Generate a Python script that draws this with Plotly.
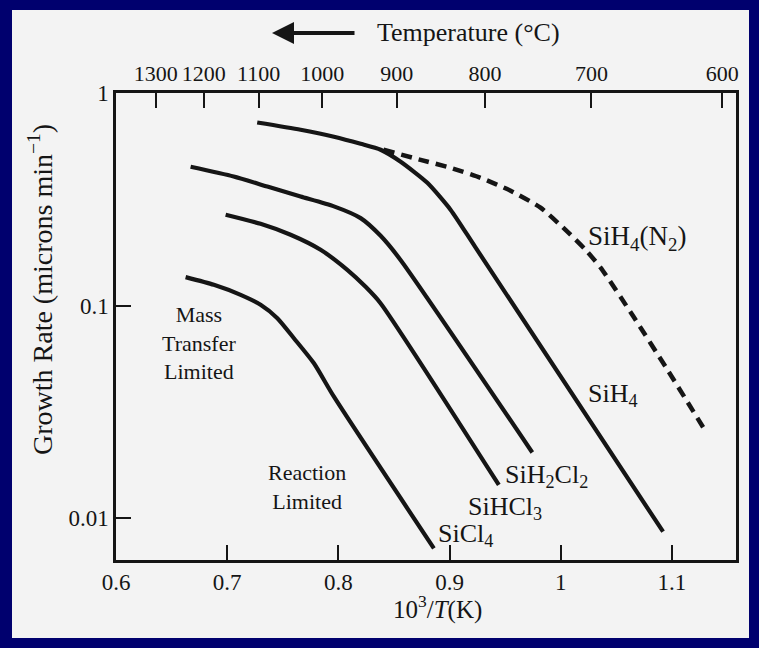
import plotly.graph_objects as go

# ---------------- data ----------------
sih4_x = [0.727, 0.766, 0.796, 0.820, 0.838, 0.856, 0.880, 0.901, 0.923, 1.092]
sih4_y = [0.727, 0.672, 0.623, 0.577, 0.541, 0.475, 0.378, 0.282, 0.189, 0.00865]

sih4n2_x = [0.8406, 0.8739, 0.9009, 0.9279, 0.9549, 0.9818, 1.0043, 1.0223, 1.0358, 1.0655, 1.0960, 1.1284]
sih4n2_y = [0.541, 0.485, 0.445, 0.399, 0.347, 0.289, 0.227, 0.183, 0.151, 0.0886, 0.0499, 0.0266]

sih2cl2_x = [0.6671, 0.7058, 0.7361, 0.7660, 0.7960, 0.8200, 0.8380, 0.8559, 0.9744]
sih2cl2_y = [0.450, 0.405, 0.363, 0.326, 0.293, 0.258, 0.213, 0.164, 0.0204]

sihcl3_x = [0.6986, 0.7300, 0.7570, 0.7840, 0.8080, 0.8245, 0.8379, 0.9443]
sihcl3_y = [0.2676, 0.2426, 0.2154, 0.1831, 0.1474, 0.1226, 0.1027, 0.01435]

sicl4_x = [0.6626, 0.6880, 0.7121, 0.7300, 0.7451, 0.7600, 0.7780, 0.7960, 0.8859]
sicl4_y = [0.1362, 0.1253, 0.1124, 0.1009, 0.0873, 0.0703, 0.0536, 0.0373, 0.00722]

x_ticks = [0.6, 0.7, 0.8, 0.9, 1.0, 1.1]
x_ticktext = ["0.6", "0.7", "0.8", "0.9", "1", "1.1"]
y_ticks = [0.01, 0.1, 1]
y_ticktext = ["0.01", "0.1", "1"]
temps_c = [1300, 1200, 1100, 1000, 900, 800, 700, 600]

# ---------------- layout helpers ----------------
W, H = 759, 648
L, R, T, B = 116, 736, 93, 560
FONT = "Liberation Serif, Times New Roman, serif"
INK = "#151515"
NAVY = "#00006e"


def P(px, py):
    return (px - L) / (R - L), (B - py) / (B - T)


fig = go.Figure()
line = dict(color=INK, width=4.2)
for xs, ys in [(sih4_x, sih4_y), (sih2cl2_x, sih2cl2_y), (sihcl3_x, sihcl3_y), (sicl4_x, sicl4_y)]:
    fig.add_trace(go.Scatter(x=xs, y=ys, mode="lines", line=dict(line, shape="spline", smoothing=0.6),
                             showlegend=False, hoverinfo="skip"))
fig.add_trace(go.Scatter(x=sih4n2_x, y=sih4n2_y, mode="lines",
                         line=dict(color=INK, width=4.5, dash="11px,7px", shape="spline", smoothing=0.6),
                         showlegend=False, hoverinfo="skip"))
# invisible trace to carry the temperature axis
fig.add_trace(go.Scatter(x=[1000.0 / (t + 273.15) for t in temps_c], y=[0.5] * len(temps_c),
                         xaxis="x2", mode="markers", marker=dict(opacity=0), showlegend=False,
                         hoverinfo="skip"))

axis_common = dict(showgrid=False, zeroline=False, showline=True, linecolor=INK, linewidth=2.5,
                   ticks="inside", ticklen=15, tickwidth=1.5, tickcolor=INK, tickangle=0,
                   tickfont=dict(family=FONT, size=23, color=INK))
xr = [0.6, 1.1576]
fig.update_layout(
    width=W, height=H,
    margin=dict(l=L, r=W - R, t=T, b=H - B),
    paper_bgcolor=NAVY,
    plot_bgcolor="rgba(0,0,0,0)",
    font=dict(family=FONT, size=22, color=INK),
    xaxis=dict(axis_common, range=xr, tickvals=x_ticks, ticktext=x_ticktext),
    xaxis2=dict(axis_common, range=xr, overlaying="x", side="top",
                tickvals=[1000.0 / (t + 273.15) for t in temps_c],
                ticktext=[str(t) for t in temps_c],
                tickfont=dict(family=FONT, size=22, color=INK)),
    yaxis=dict(axis_common, type="log", range=[-2.196, 0], tickvals=y_ticks, ticktext=y_ticktext,
               mirror=True),
)

# light page behind the chart
x0, y0 = P(12, 638)
x1, y1 = P(749, 10)
fig.add_shape(type="rect", xref="paper", yref="paper", x0=x0, y0=y0, x1=x1, y1=y1,
              fillcolor="#f3f3f3", line=dict(width=0), layer="below")


def label(text, px, py, size=22, xanchor="center", **kw):
    x, y = P(px, py)
    fig.add_annotation(text=text, x=x, y=y, xref="paper", yref="paper", showarrow=False,
                       xanchor=xanchor, yanchor="middle",
                       font=dict(family=FONT, size=size, color=INK), **kw)


label("SiH<sub>4</sub>(N<sub>2</sub>)", 637, 238, size=27)
label("SiH<sub>4</sub>", 613, 395, size=26)
label("SiH<sub>2</sub>Cl<sub>2</sub>", 546, 476, size=26)
label("SiHCl<sub>3</sub>", 505, 508, size=26)
label("SiCl<sub>4</sub>", 465, 535, size=26)
label("Mass<br>Transfer<br>Limited", 199, 343, size=22)
label("Reaction<br>Limited", 307, 487, size=22)
label("10<sup>3</sup>/<i>T</i>(K)", 437, 607, size=25)
label("Growth Rate (microns min<sup>−1</sup>)", 40, 290, size=28, textangle=-90)
label("Temperature (°C)", 375, 33, size=26, xanchor="left")

# arrow pointing to higher temperatures
ax, ay = P(272, 33)
fig.add_annotation(x=ax, y=ay, xref="paper", yref="paper", ax=84, ay=0, text="",
                   showarrow=True, arrowhead=2, arrowsize=1.1, arrowwidth=4, arrowcolor=INK)

fig.write_html(
    "out.html",
    config={"displayModeBar": False},
    post_script="document.body.style.margin='0';document.body.style.background='%s';" % NAVY,
)
